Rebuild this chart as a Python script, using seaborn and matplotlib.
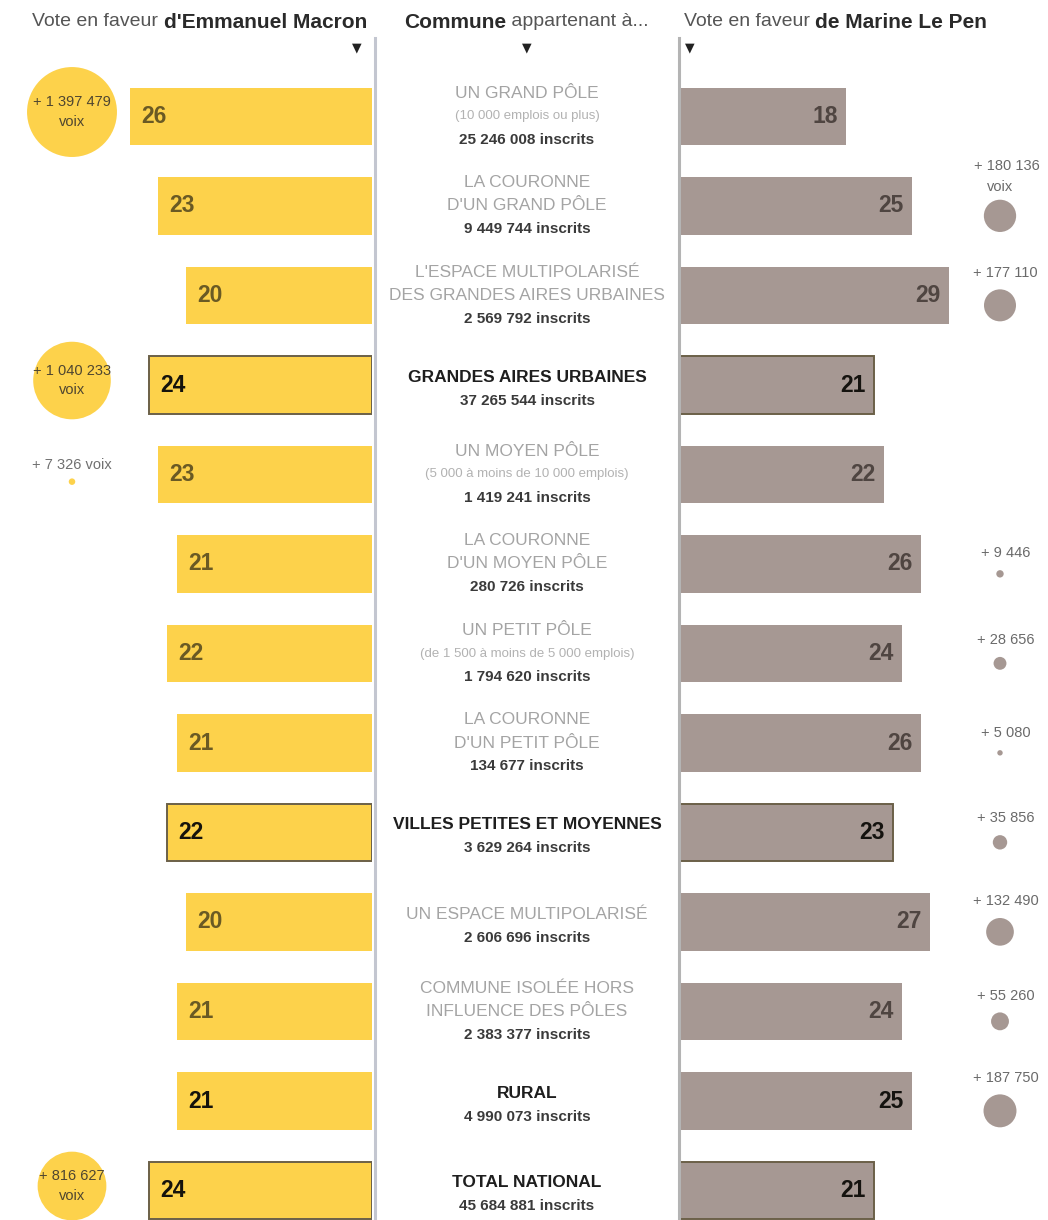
import numpy as np
import pandas as pd
import seaborn as sns
import matplotlib.pyplot as plt

# ---------------------------------------------------------------
# data
# ---------------------------------------------------------------
zones = ['grand_pole', 'couronne_gp', 'multipol_gau', 'gau', 'moyen_pole',
         'couronne_mp', 'petit_pole', 'couronne_pp', 'vpm', 'multipol',
         'isolee', 'rural', 'total']
labels = ["UN GRAND PÔLE", "LA COURONNE\nD'UN GRAND PÔLE",
          "L'ESPACE MULTIPOLARISÉ\nDES GRANDES AIRES URBAINES",
          "GRANDES AIRES URBAINES", "UN MOYEN PÔLE", "LA COURONNE\nD'UN MOYEN PÔLE",
          "UN PETIT PÔLE", "LA COURONNE\nD'UN PETIT PÔLE",
          "VILLES PETITES ET MOYENNES", "UN ESPACE MULTIPOLARISÉ",
          "COMMUNE ISOLÉE HORS\nINFLUENCE DES PÔLES", "RURAL", "TOTAL NATIONAL"]
sublabels = ["(10 000 emplois ou plus)", None, None, None,
             "(5 000 à moins de 10 000 emplois)", None,
             "(de 1 500 à moins de 5 000 emplois)", None, None, None, None, None, None]
inscrits = ["25 246 008", "9 449 744", "2 569 792", "37 265 544", "1 419 241",
            "280 726", "1 794 620", "134 677", "3 629 264", "2 606 696",
            "2 383 377", "4 990 073", "45 684 881"]
macron = [26, 23, 20, 24, 23, 21, 22, 21, 22, 20, 21, 21, 24]
lepen = [18, 25, 29, 21, 22, 26, 24, 26, 23, 27, 24, 25, 21]
macron_gain = [1397479, None, None, 1040233, 7326, None, None, None,
               None, None, None, None, 816627]
lepen_gain = [None, 180136, 177110, None, None, 9446, 28656, 5080,
              35856, 132490, 55260, 187750, None]
aggregate = [False, False, False, True, False, False, False, False,
             True, False, False, True, True]
outlined = ['gau', 'vpm', 'total']

# ---------------------------------------------------------------
# style
# ---------------------------------------------------------------
sns.set_theme(style='white')
plt.rcParams['font.family'] = ['Liberation Sans', 'DejaVu Sans']

YELLOW = '#fdd24b'
GREY = '#a69893'
W, H = 1048, 1220
ROW = 89.5              # px per row
PXU = 9.3               # px per percentage point
ymax = (H - 116.5) / ROW
K = 0.003               # bubble area per vote


def fmt(n):
    return '+ ' + f'{n:,}'.replace(',', ' ')


fig = plt.figure(figsize=(W / 100, H / 100), dpi=100)
ax_l = fig.add_axes([0, 0, 372 / W, (H - 71.75) / H])
ax_r = fig.add_axes([679 / W, 0, (W - 679) / W, (H - 71.75) / H])
ax_c = fig.add_axes([375 / W, 0, (679 - 375) / W, (H - 38) / H])

df = pd.DataFrame({'zone': zones, 'macron': macron, 'lepen': lepen})

# bars
sns.barplot(data=df, x='macron', y='zone', orient='h', color=YELLOW,
            saturation=1, width=0.64, errorbar=None, ax=ax_l)
sns.barplot(data=df, x='lepen', y='zone', orient='h', color=GREY,
            saturation=1, width=0.64, errorbar=None, ax=ax_r)

for ax in (ax_l, ax_r):
    for i, p in enumerate(ax.patches):
        p.set_linewidth(0)
        if zones[i] in outlined:
            p.set_edgecolor('#6b6048')
            p.set_linewidth(1.4)

ax_l.set_xlim(372 / PXU, 0)
ax_r.set_xlim(0, (W - 679) / PXU)

# values on bars
for i, v in enumerate(macron):
    ax_l.annotate(str(v), (v, i), xytext=(8, 0), textcoords='offset points',
                  ha='left', va='center', fontsize=16.5, weight='bold',
                  color='#15130c' if aggregate[i] else '#6a5a24')
for i, v in enumerate(lepen):
    ax_r.annotate(str(v), (v, i), xytext=(-6, 0), textcoords='offset points',
                  ha='right', va='center', fontsize=16.5, weight='bold',
                  color='#15130f' if aggregate[i] else '#4f4541')

# bubbles Macron
XL = (372 - 72) / PXU
for i, g in enumerate(macron_gain):
    if g is None:
        continue
    s = g * K
    if g > 100000:
        ax_l.scatter(XL, i - 0.05, s=s, color=YELLOW, edgecolor='none',
                     zorder=3, clip_on=False)
        ax_l.annotate(fmt(g), (XL, i - 0.05), xytext=(0, 7), textcoords='offset points',
                      ha='center', va='center', fontsize=10.5, color='#4f4630', zorder=4)
        ax_l.annotate('voix', (XL, i - 0.05), xytext=(0, -7), textcoords='offset points',
                      ha='center', va='center', fontsize=10.5, color='#4f4630', zorder=4)
    else:
        ax_l.scatter(XL, i + 0.08, s=s, color=YELLOW, edgecolor='none', zorder=3)
        ax_l.annotate(fmt(g) + ' voix', (XL, i - 0.11), ha='center', va='center',
                      fontsize=10.5, color='#707070')

# bubbles Le Pen
XR = (1000 - 679) / PXU
first = True
for i, g in enumerate(lepen_gain):
    if g is None:
        continue
    s = g * K
    r_pt = np.sqrt(s) / 2
    ax_r.scatter(XR, i + 0.11, s=s, color=GREY, edgecolor='none', zorder=3)
    if first:
        ax_r.annotate(fmt(g), (XR, i + 0.11), xytext=(5, r_pt + 24),
                      textcoords='offset points', ha='center', va='center',
                      fontsize=10.5, color='#6a6a6a')
        ax_r.annotate('voix', (XR, i + 0.11), xytext=(0, r_pt + 9),
                      textcoords='offset points', ha='center', va='center',
                      fontsize=10.5, color='#6a6a6a')
        first = False
    else:
        ax_r.annotate(fmt(g), (XR, i + 0.11), xytext=(4, r_pt + 12),
                      textcoords='offset points', ha='center', va='center',
                      fontsize=10.5, color='#6a6a6a')

for ax in (ax_l, ax_r):
    ax.set_ylim(ymax, -0.5)
    ax.set_axis_off()
    ax.patch.set_alpha(0)

# centre column
ax_c.set_xlim(0, 1)
ax_c.set_ylim(ymax, -0.5 - (71.75 - 38) / ROW)
ax_c.set_xticks([])
ax_c.set_yticks([])
ax_c.patch.set_alpha(0)
for side in ('top', 'bottom'):
    ax_c.spines[side].set_visible(False)
ax_c.spines['left'].set_color('#c3c6d0')
ax_c.spines['right'].set_color('#b4b4b4')
for side in ('left', 'right'):
    ax_c.spines[side].set_linewidth(2.2)

SP = 16.9
for i in range(len(zones)):
    lines = []
    for part in labels[i].split('\n'):
        if aggregate[i]:
            lines.append((part, dict(fontsize=12.5, weight='bold', color='#1e1e1e')))
        else:
            lines.append((part, dict(fontsize=12.5, color='#a4a4a4')))
    if sublabels[i]:
        lines.append((sublabels[i], dict(fontsize=9.5, color='#b2b2b2')))
    lines.append((inscrits[i] + ' inscrits', dict(fontsize=11, weight='bold', color='#3a3a3a')))
    n = len(lines)
    shift = -3 if n == 2 else 0
    for k, (txt, kw) in enumerate(lines):
        dy = ((n - 1) / 2 - k) * SP + shift
        ax_c.annotate(txt, (0.5, i), xytext=(0, dy), textcoords='offset points',
                      ha='center', va='center', **kw)

# headers
yh = 1 - 22 / H
b1 = fig.text(367 / W, yh, "d'Emmanuel Macron", ha='right', va='center',
              fontsize=15, weight='bold', color='#2a2a2a')
ax_l.annotate('Vote en faveur ', (0, 0.5), xycoords=b1, ha='right', va='center',
              fontsize=14, color='#555555')
b2 = fig.text(506 / W, yh, 'Commune', ha='right', va='center',
              fontsize=15, weight='bold', color='#2a2a2a')
ax_c.annotate(' appartenant à...', (1, 0.5), xycoords=b2, ha='left', va='center',
              fontsize=14, color='#555555')
r1 = fig.text(684 / W, yh, 'Vote en faveur ', ha='left', va='center',
              fontsize=14, color='#555555')
ax_r.annotate('de Marine Le Pen', (1, 0.5), xycoords=r1, ha='left', va='center',
              fontsize=15, weight='bold', color='#2a2a2a')

for xpx in (357, 527, 690):
    fig.text(xpx / W, 1 - 48 / H, '▼', ha='center', va='center', fontsize=9,
             color='#222222', family='DejaVu Sans')

fig.savefig('out.png', dpi=100, facecolor='white')
